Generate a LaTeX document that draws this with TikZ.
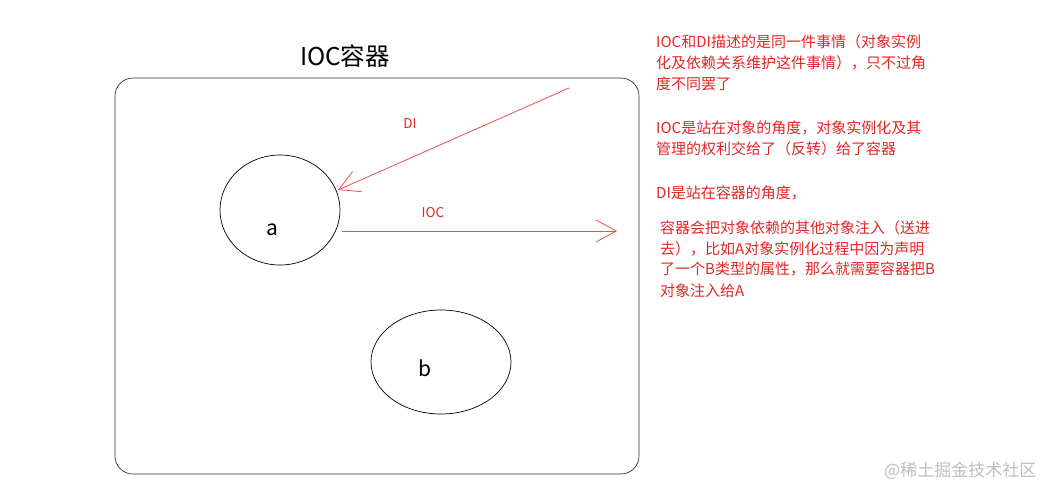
\documentclass[tikz,border=0pt]{standalone}
\usepackage{fontspec}
\setmainfont{Noto Sans CJK SC}
\usetikzlibrary{arrows.meta}
\definecolor{txtred}{RGB}{228,38,38}
\definecolor{arrred}{RGB}{236,80,80}
\definecolor{wm}{RGB}{190,190,190}
\tikzset{
  note/.style={anchor=base west, inner sep=0pt, text=txtred, font=\fontsize{15}{17}\selectfont},
  lbl/.style={anchor=center, inner sep=0pt, text=txtred, font=\fontsize{13.5}{15}\selectfont},
  letter/.style={anchor=center, inner sep=0pt, font=\fontsize{21}{23}\selectfont},
  obj/.style={draw=black, line width=0.7pt, ellipse},
  conn/.style={draw=arrred, line width=0.8pt, -{Straight Barb[length=20pt,width=22pt,line width=0.8pt]}}
}
\usetikzlibrary{shapes.geometric}
\begin{document}
\begin{tikzpicture}[x=1pt,y=-1pt]
\useasboundingbox (0,0) rectangle (1063,499);
\fill[white] (0,0) rectangle (1063,499);
% container
\draw[line width=0.7pt, draw=black!80, rounded corners=18pt] (115,78) rectangle (639,474);
\node[anchor=center, inner sep=0pt, font=\fontsize{24.5}{26}\selectfont] (title) at (345,56) {IOC容器};
% objects
\node[obj, minimum width=120pt, minimum height=110pt, inner sep=0pt] (a) at (280,210) {};
\node[obj, minimum width=140pt, minimum height=104pt, inner sep=0pt] (b) at (441,362) {};
\node[letter] (la) at (272,230) {a};
\node[letter] (lb) at (425,368) {b};
% arrows
\coordinate (diStart) at (569,88);
\coordinate (diEnd) at (338,190);
\coordinate (iocStart) at (342,231);
\coordinate (iocEnd) at (617,231);
\draw[conn] (diStart) -- (diEnd);
\draw[conn] (iocStart) -- (iocEnd);
\node[lbl] (dil) at (410,124) {DI};
\node[lbl] (iocl) at (433,213) {IOC};
% notes
\node[note] (n1) at (656,47) {IOC和DI描述的是同一件事情（对象实例};
\node[note] (n2) at (656,68) {化及依赖关系维护这件事情），只不过角};
\node[note] (n3) at (656,89) {度不同罢了};
\node[note] (n4) at (656,133) {IOC是站在对象的角度，对象实例化及其};
\node[note] (n5) at (656,154) {管理的权利交给了（反转）给了容器};
\node[note] (n6) at (656,198) {DI是站在容器的角度，};
\node[note] (n7) at (660,233) {容器会把对象依赖的其他对象注入（送进};
\node[note] (n8) at (660,254) {去），比如A对象实例化过程中因为声明};
\node[note] (n9) at (660,274) {了一个B类型的属性，那么就需要容器把B};
\node[note] (n10) at (660,296) {对象注入给A};
% watermark
\node[anchor=base west, inner sep=0pt, text=wm, font=\fontsize{17}{19}\selectfont] (wmk) at (884,476) {@稀土掘金技术社区};
\end{tikzpicture}
\end{document}
